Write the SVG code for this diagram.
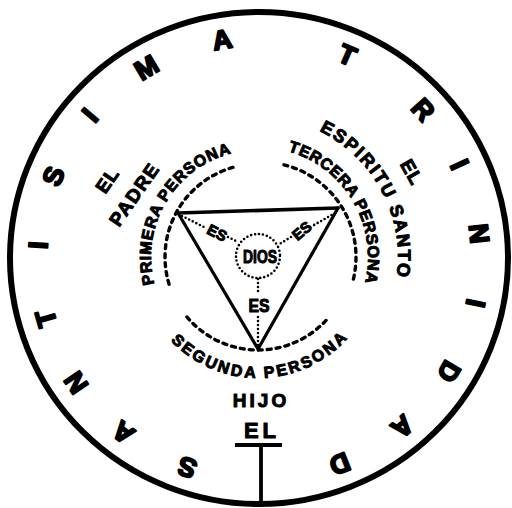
<svg xmlns="http://www.w3.org/2000/svg" width="512" height="508" viewBox="0 0 512 508">
<style>
.out{font-family:"Liberation Sans",Arial,sans-serif;font-weight:bold;font-size:27px;fill:#000;stroke:#000;stroke-width:2;stroke-linejoin:round;text-anchor:middle}
.lbl{font-family:"Liberation Sans",Arial,sans-serif;font-weight:bold;fill:#000;stroke:#000;stroke-width:1;stroke-linejoin:round}
.dash{fill:none;stroke:#000;stroke-width:3.4;stroke-linecap:round;stroke-dasharray:4 5}
.dot{fill:none;stroke:#000;stroke-width:2.6;stroke-linecap:round;stroke-dasharray:0 4}
.tri{fill:none;stroke:#000;stroke-linejoin:miter;stroke-linecap:round}
</style>
<defs>
<path id="pPrim" d="M 165.34 310.5 A 107 107 0 0 1 259.87 150.02"/>
<path id="pTerc" d="M 257.04 147 A 110 110 0 0 1 353.74 311.17"/>
<path id="pSeg" d="M 153.95 318.77 A 121 121 0 0 0 363.52 316.22"/>
<path id="pEsp" d="M 262.47 117.02 A 140 140 0 0 1 376.72 331.19"/>
</defs>

<g id="outer-ring">
<ellipse cx="259" cy="258" rx="249" ry="246" fill="none" stroke="#000" stroke-width="6"/>
<g id="ring-letters">
<text class="out" transform="rotate(198.9 259 258)" x="259" y="46">S</text>
<text class="out" transform="rotate(217.9 259 258)" x="259" y="46">A</text>
<text class="out" transform="rotate(235.7 259 258)" x="259" y="46">N</text>
<text class="out" transform="rotate(254.2 259 258)" x="259" y="46">T</text>
<text class="out" transform="rotate(273.3 259 258)" x="259" y="46">I</text>
<text class="out" transform="rotate(291.7 259 258)" x="259" y="46">S</text>
<text class="out" transform="rotate(310.2 259 258)" x="259" y="46">I</text>
<text class="out" transform="rotate(329.4 259 258)" x="259" y="46">M</text>
<text class="out" transform="rotate(350.4 259 258)" x="259" y="46">A</text>
<text class="out" transform="rotate(23.5 259 258)" x="259" y="46">T</text>
<text class="out" transform="rotate(47.9 259 258)" x="259" y="46">R</text>
<text class="out" transform="rotate(65 259 258)" x="259" y="46">I</text>
<text class="out" transform="rotate(83.7 259 258)" x="259" y="46">N</text>
<text class="out" transform="rotate(101.8 259 258)" x="259" y="46">I</text>
<text class="out" transform="rotate(120.9 259 258)" x="259" y="46">D</text>
<text class="out" transform="rotate(139.6 259 258)" x="259" y="46">A</text>
<text class="out" transform="rotate(158.6 259 258)" x="259" y="46">D</text>
</g>
</g>

<g id="connectors">
<path class="dot" d="M 182 216 L 206 228"/>
<path class="dot" d="M 228 237 L 238 242"/>
<path class="dot" d="M 335 213 L 314 225"/>
<path class="dot" d="M 291 237 L 278 245"/>
<path class="dot" d="M 258 279 L 258 294"/>
<path class="dot" d="M 258 317 L 258 346"/>
<text class="lbl" font-size="15" text-anchor="middle" transform="translate(217 233) rotate(27)" y="5">ES</text>
<text class="lbl" font-size="15" text-anchor="middle" transform="translate(302 231) rotate(-40)" y="5">ES</text>
<text class="lbl" font-size="18" text-anchor="middle" x="259" y="312" textLength="21" lengthAdjust="spacingAndGlyphs">ES</text>
</g>

<g id="triangle">
<path class="tri" stroke-width="3.6" d="M 178 213 L 338 208"/>
<path class="tri" stroke-width="3.2" d="M 178 213 L 258 349 L 338 208"/>
</g>

<g id="dios">
<circle cx="258" cy="256" r="22" class="dot"/>
<text class="lbl" font-size="18" text-anchor="middle" x="260" y="263" textLength="34" lengthAdjust="spacingAndGlyphs">DIOS</text>
</g>

<g id="padre">
<path class="dash" d="M 169.07 284.19 A 93 93 0 0 1 235.5 166.76"/>
<text class="lbl" font-size="16"><textPath href="#pPrim" startOffset="50%" text-anchor="middle" textLength="168" lengthAdjust="spacing">PRIMERA PERSONA</textPath></text>
<text class="lbl" font-size="19" text-anchor="middle" letter-spacing="1.5" transform="translate(134 194) rotate(-55)" y="7">PADRE</text>
<text class="lbl" font-size="19" text-anchor="middle" letter-spacing="1" transform="translate(107 180) rotate(-55)" y="7">EL</text>
</g>

<g id="espiritu">
<path class="dash" d="M 283.98 164.82 A 95 95 0 0 1 353.18 279.98"/>
<text class="lbl" font-size="16"><textPath href="#pTerc" startOffset="50%" text-anchor="middle" textLength="168" lengthAdjust="spacing">TERCERA PERSONA</textPath></text>
<text class="lbl" font-size="18"><textPath href="#pEsp" startOffset="50%" text-anchor="middle" textLength="176" lengthAdjust="spacing">ESPIRITU SANTO</textPath></text>
<text class="lbl" font-size="19" text-anchor="middle" letter-spacing="1" transform="translate(412 172) rotate(61)" y="7">EL</text>
</g>

<g id="hijo">
<path class="dash" d="M 326.02 320.43 A 93 93 0 0 1 186.76 316.78"/>
<text class="lbl" font-size="16"><textPath href="#pSeg" startOffset="50%" text-anchor="middle" textLength="198" lengthAdjust="spacing">SEGUNDA PERSONA</textPath></text>
<text class="lbl" font-size="19" text-anchor="middle" letter-spacing="3" x="261" y="407">HIJO</text>
<text class="lbl" font-size="22" text-anchor="middle" letter-spacing="4" x="262" y="438">EL</text>
<path d="M 235 445 H 282 M 261 445 V 505" fill="none" stroke="#000" stroke-width="3.8"/>
</g>
</svg>
